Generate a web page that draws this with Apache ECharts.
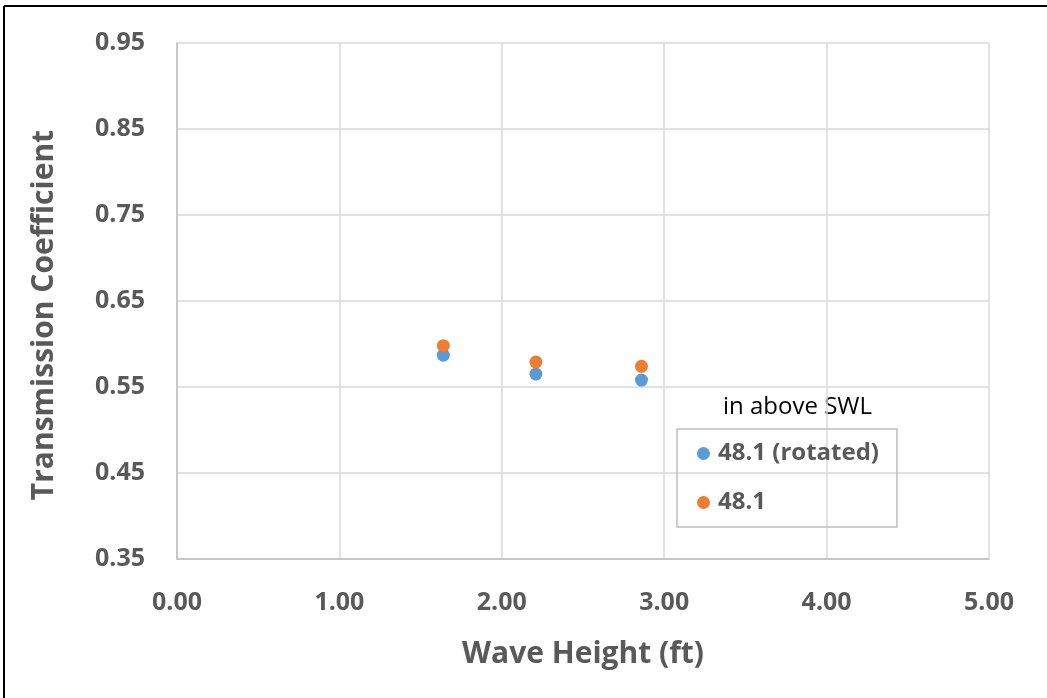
<!DOCTYPE html>
<html>
<head>
<meta charset="utf-8">
<script src="https://cdn.jsdelivr.net/npm/echarts@6/dist/echarts.min.js"></script>
<style>html,body{margin:0;padding:0;background:#fff;}#c{width:1047px;height:698px;}</style>
</head>
<body>
<div id="c"></div>
<script>
var rotatedX = [1.64, 2.21, 2.86];
var rotatedY = [0.587, 0.565, 0.558];
var plainX = [1.64, 2.21, 2.86];
var plainY = [0.598, 0.579, 0.574];
var seriesNames = ['48.1 (rotated)', '48.1'];
var legendTitle = 'in above SWL';
var xTitle = 'Wave Height (ft)';
var yTitle = 'Transmission Coefficient';

function pairs(xs, ys) { return xs.map(function (x, i) { return [x, ys[i]]; }); }

var chart = echarts.init(document.getElementById('c'));
var font = 'Open Sans';
chart.setOption({
  backgroundColor: '#fff',
  animation: false,
  grid: { left: 177, top: 43, width: 812, height: 516 },
  xAxis: {
    type: 'value', min: 0, max: 5, interval: 1,
    name: xTitle, nameLocation: 'middle', nameGap: 80,
    nameTextStyle: { fontFamily: font, fontWeight: 'bold', fontSize: 30, color: '#595959' },
    axisLine: { show: true, lineStyle: { color: '#bfbfbf', width: 1.5 } },
    axisTick: { show: false },
    splitLine: { show: true, lineStyle: { color: '#d9d9d9', width: 1.5 } },
    axisLabel: { margin: 31, fontFamily: font, fontWeight: 'bold', fontSize: 25, color: '#595959',
      formatter: function (v) { return v.toFixed(2); } }
  },
  yAxis: {
    type: 'value', min: 0.35, max: 0.95, interval: 0.1,
    name: yTitle, nameLocation: 'middle', nameGap: 118, nameRotate: 90,
    nameTextStyle: { fontFamily: font, fontWeight: 'bold', fontSize: 30, color: '#595959', padding: [0, 28, 0, 0] },
    axisLine: { show: true, lineStyle: { color: '#bfbfbf', width: 1.5 } },
    axisTick: { show: false },
    splitLine: { show: true, lineStyle: { color: '#d9d9d9', width: 1.5 } },
    axisLabel: { margin: 32, fontFamily: font, fontWeight: 'bold', fontSize: 25, color: '#595959',
      formatter: function (v) { return v.toFixed(2); } }
  },
  legend: {
    orient: 'vertical', left: 677, top: 429,
    data: seriesNames,
    borderColor: '#bfbfbf', borderWidth: 1.5,
    padding: [11, 18, 11, 20],
    itemGap: 22, itemWidth: 13, itemHeight: 13, icon: 'circle',
    textStyle: { fontFamily: font, fontWeight: 'bold', fontSize: 24, lineHeight: 27, color: '#595959', padding: [0, 0, 0, 3] }
  },
  graphic: [
    { type: 'text', left: 723, top: 395, style: { text: legendTitle, font: '24px "Open Sans"', fill: '#000' } },
    { type: 'line', shape: { x1: 4, y1: 6, x2: 1047, y2: 6 }, style: { stroke: '#000', lineWidth: 2 } },
    { type: 'line', shape: { x1: 4, y1: 6, x2: 4, y2: 698 }, style: { stroke: '#000', lineWidth: 2 } }
  ],
  series: [
    { name: seriesNames[0], type: 'scatter', symbolSize: 13, data: pairs(rotatedX, rotatedY), itemStyle: { color: '#5B9BD5', opacity: 1 } },
    { name: seriesNames[1], type: 'scatter', symbolSize: 13, data: pairs(plainX, plainY), itemStyle: { color: '#ED7D31', opacity: 1 } }
  ]
});
</script>
</body>
</html>
